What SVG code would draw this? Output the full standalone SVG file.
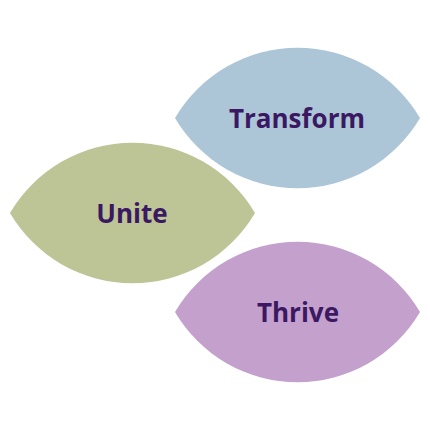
<svg xmlns="http://www.w3.org/2000/svg" width="430" height="430" viewBox="0 0 430 430">
<style>
.lbl{font-family:"Open Sans","Liberation Sans",sans-serif;font-weight:700;font-size:26px;fill:#3b1862;text-anchor:middle}
</style>
<rect width="430" height="430" fill="#ffffff"/>
<g id="transform">
<path d="M175,118 A142,142 0 0 1 420,118 A142,142 0 0 1 175,118 Z" fill="#adc6d7"/>
<text class="lbl" x="297" y="128">Transform</text>
</g>
<g id="unite">
<path d="M10,213 A142,142 0 0 1 255,213 A142,142 0 0 1 10,213 Z" fill="#bdc496"/>
<text class="lbl" x="132" y="223">Unite</text>
</g>
<g id="thrive">
<path d="M175,312 A142,142 0 0 1 420,312 A142,142 0 0 1 175,312 Z" fill="#c4a0cc"/>
<text class="lbl" x="298" y="322">Thrive</text>
</g>
<g id="connectors"></g>
</svg>
